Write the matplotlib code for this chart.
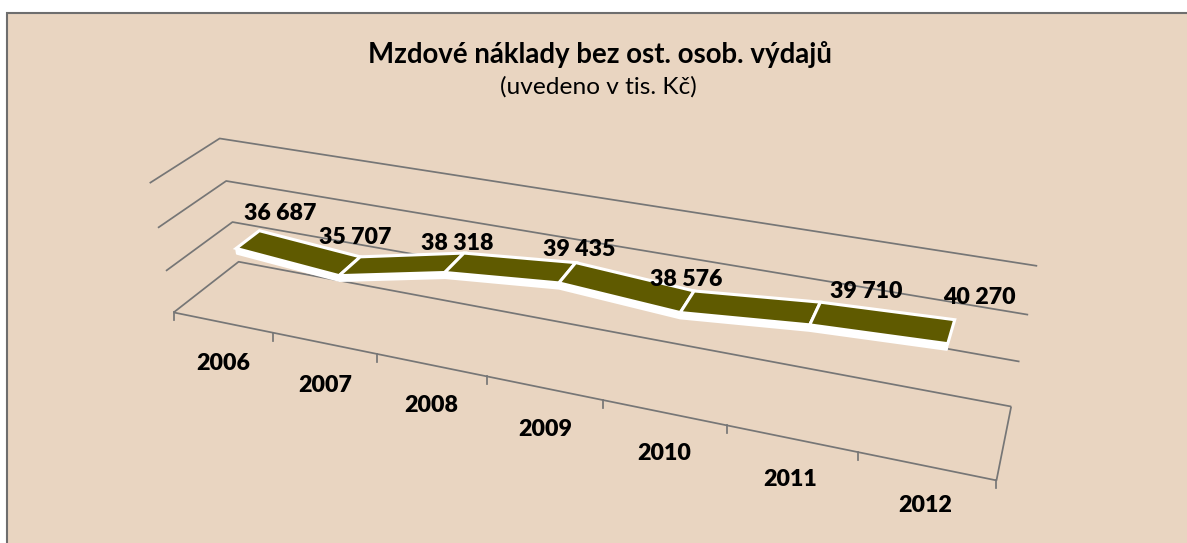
import numpy as np
import matplotlib
matplotlib.use("Agg")
import matplotlib.pyplot as plt
from matplotlib.patches import Rectangle, Polygon

plt.rcParams["font.family"] = ["Lato", "DejaVu Sans"]

YEARS = ["2006", "2007", "2008", "2009", "2010", "2011", "2012"]
VALUES = [36687, 35707, 38318, 39435, 38576, 39710, 40270]
GRID_LEVELS = [30000, 35000, 40000, 45000]
TITLE = "Mzdové náklady bez ost. osob. výdajů"
SUBTITLE = "(uvedeno v tis. Kč)"

COLOR_BG = "#e9d5c1"
COLOR_GRID = "#767676"
COLOR_RIBBON = "#5f5a00"

# label anchors in pixels (Excel places these by hand-ish rules)
VALUE_LABEL_XY = [(280, 213), (355, 237), (457, 244), (579, 249), (686, 280), (866, 291), (979, 297)]
YEAR_LABEL_XY = [(223, 364), (325, 385), (431, 406), (545, 429), (664, 453), (790, 479), (925, 506)]

# camera calibration: (slot, value, depth) -> pixel
CALIB = [
    (0, 30000, 0, 174, 313), (1, 30000, 0, 273, 332), (2, 30000, 0, 377, 354), (3, 30000, 0, 487, 376),
    (4, 30000, 0, 603, 400), (5, 30000, 0, 727, 426), (6, 30000, 0, 857, 452), (7, 30000, 0, 997, 480),
    (0, 30000, 1, 238, 262), (7, 30000, 1, 1011, 406),
    (0, 35000, 0, 166, 271), (0, 35000, 1, 233, 222), (7, 35000, 1, 1020, 362),
    (0, 40000, 0, 157, 228), (0, 40000, 1, 226, 181), (7, 40000, 1, 1028, 315),
    (0, 45000, 0, 150, 183), (0, 45000, 1, 220, 138), (7, 45000, 1, 1037, 266),
]


def fit_camera(calib):
    rows, rhs = [], []
    for x, v, z, u, w in calib:
        y = (v - 30000) / 5000
        rows.append([x, y, z, 1, 0, 0, 0, 0, -u * x, -u * y, -u * z])
        rhs.append(u)
        rows.append([0, 0, 0, 0, x, y, z, 1, -w * x, -w * y, -w * z])
        rhs.append(w)
    p = np.linalg.lstsq(np.array(rows, float), np.array(rhs, float), rcond=None)[0]
    return np.append(p, 1).reshape(3, 4)


CAM = fit_camera(CALIB)


def project(x, v, z):
    x, v, z = np.broadcast_arrays(np.asarray(x, float), (np.asarray(v, float) - 30000) / 5000, np.asarray(z, float))
    h = CAM @ np.vstack([x.ravel(), v.ravel(), z.ravel(), np.ones(x.size)])
    return np.column_stack([h[0] / h[2], h[1] / h[2]])


def line3d(ax, x, v, z, **kw):
    pts = project(x, v, z)
    ax.plot(pts[:, 0], pts[:, 1], color=COLOR_GRID, solid_capstyle="butt", zorder=2, **kw)


fig = plt.figure(figsize=(11.87, 5.43), dpi=100, facecolor="white")
ax = fig.add_axes([0, 0, 1, 1])
ax.set_xlim(0, 1187)
ax.set_ylim(543, 0)
ax.axis("off")

ax.add_patch(Rectangle((7, 13), 1200, 560, facecolor=COLOR_BG, edgecolor="#6e6e6e", linewidth=1.5, zorder=0))

# frame: walls and floor
for level in GRID_LEVELS:
    line3d(ax, [0, 0, 7], [level] * 3, [0, 1, 1], linewidth=1.25)
line3d(ax, [0, 7, 7], [GRID_LEVELS[0]] * 3, [0, 0, 1], linewidth=1.25)
for pt in project(np.arange(8), GRID_LEVELS[0], 0):
    ax.plot([pt[0], pt[0]], [pt[1], pt[1] + 8], color=COLOR_GRID, linewidth=1.25, zorder=2)

# ribbon
slots = np.arange(len(VALUES)) + 0.5
vals = np.array(VALUES, float)
Z_FRONT, Z_BACK = 0.34, 0.70
DROP = 620

front = project(slots, vals, Z_FRONT)
back = project(slots, vals, Z_BACK)
lower = project(slots, vals - DROP, Z_FRONT)
ax.add_patch(Polygon(np.vstack([front, lower[::-1]]), closed=True, facecolor="white",
                     edgecolor="white", linewidth=1.5, joinstyle="round", zorder=3))
for i in range(len(VALUES) - 1):
    quad = np.array([front[i], front[i + 1], back[i + 1], back[i]])
    ax.add_patch(Polygon(quad, closed=True, facecolor=COLOR_RIBBON, edgecolor="white",
                         linewidth=2.2, joinstyle="miter", zorder=4))

# texts
for val, (x, y) in zip(VALUES, VALUE_LABEL_XY):
    txt = f"{val:,}".replace(",", " ")
    ax.text(x, y, txt, ha="center", va="center", fontsize=16.7, fontweight="heavy", color="black", zorder=5)
for yr, (x, y) in zip(YEARS, YEAR_LABEL_XY):
    ax.text(x, y, yr, ha="center", va="center", fontsize=16.7, fontweight="heavy", color="black", zorder=5)

ax.text(600, 54, TITLE, ha="center", va="center", fontsize=19.9, fontweight="bold", color="black", zorder=5)
ax.text(598, 87, SUBTITLE, ha="center", va="center", fontsize=17.6, color="black", zorder=5)

fig.savefig("out.png", dpi=100, facecolor="white")
plt.close(fig)
